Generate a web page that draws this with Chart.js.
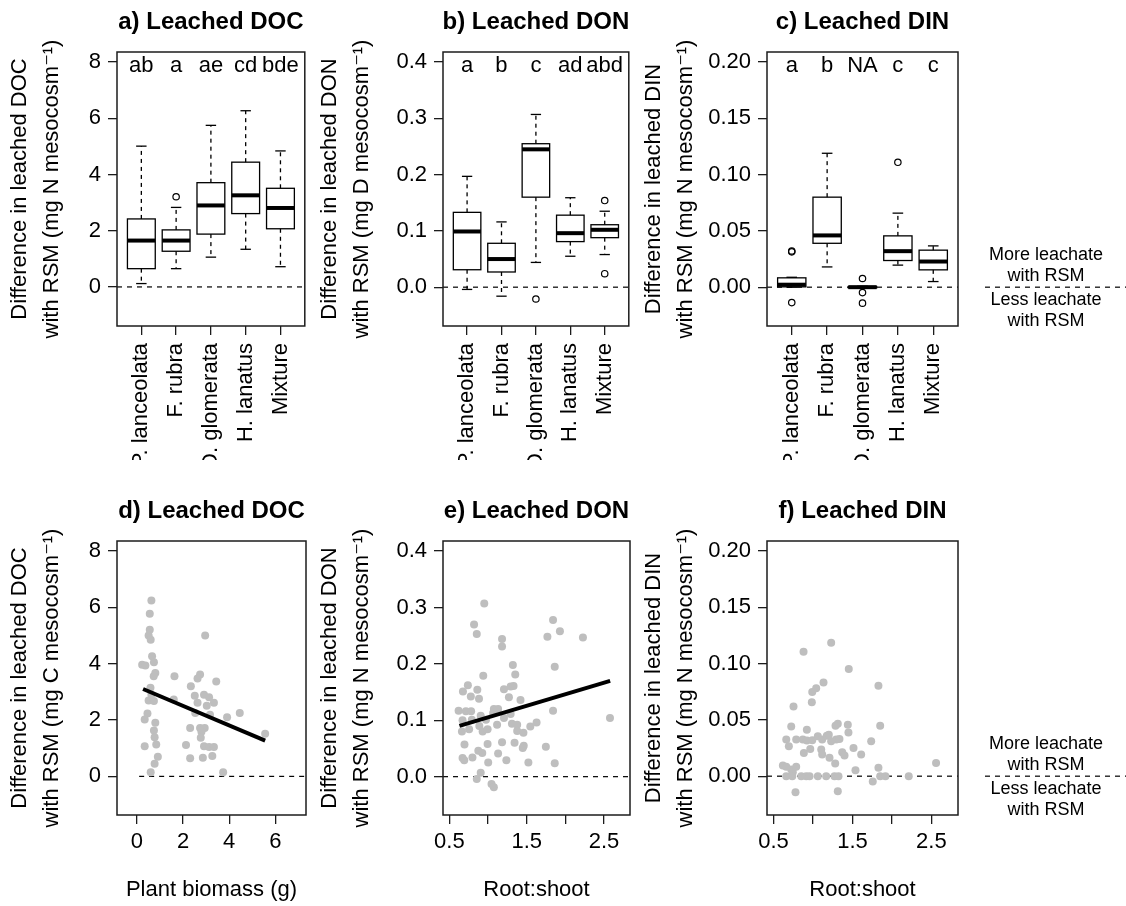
<!DOCTYPE html>
<html>
<head>
<meta charset="utf-8">
<script src="https://cdn.jsdelivr.net/npm/chart.js@4.4.1/dist/chart.umd.min.js"></script>
<style>
  html, body { margin: 0; padding: 0; background: #fff; }
  #wrap { position: relative; width: 1126px; height: 906px; overflow: hidden; }
  canvas { position: absolute; }
</style>
</head>
<body>
<div id="wrap">
  <canvas id="pa" width="310" height="460" style="left:0px;top:0px"></canvas>
  <canvas id="pb" width="324" height="460" style="left:310px;top:0px"></canvas>
  <canvas id="pc" width="492" height="460" style="left:634px;top:0px"></canvas>
  <canvas id="pd" width="310" height="446" style="left:0px;top:460px"></canvas>
  <canvas id="pe" width="324" height="446" style="left:310px;top:460px"></canvas>
  <canvas id="pf" width="492" height="446" style="left:634px;top:460px"></canvas>
</div>
<script>
// --- data ---------------------------------------------------------------
const species = ['P. lanceolata', 'F. rubra', 'D. glomerata', 'H. lanatus', 'Mixture'];
const speciesPos = [1, 2, 3, 4, 5];

// box stats per species: [lower whisker, q1, median, q3, upper whisker]
const docBoxes = [
    [0.12, 0.65, 1.65, 2.42, 5.01],
    [0.65, 1.27, 1.65, 2.03, 2.83],
    [1.06, 1.88, 2.90, 3.71, 5.75],
    [1.34, 2.61, 3.26, 4.44, 6.27],
    [0.72, 2.07, 2.81, 3.51, 4.84]
];
const docOutliers = [[], [3.21], [], [], []];
const docLetters = ['ab', 'a', 'ae', 'cd', 'bde'];

const donBoxes = [
    [-0.004, 0.031, 0.099, 0.133, 0.197],
    [-0.016, 0.027, 0.050, 0.078, 0.116],
    [0.044, 0.160, 0.245, 0.255, 0.307],
    [0.055, 0.081, 0.096, 0.128, 0.159],
    [0.058, 0.088, 0.102, 0.111, 0.135]
];
const donOutliers = [[], [], [-0.021], [], [0.154, 0.024]];
const donLetters = ['a', 'b', 'c', 'ad', 'abd'];

const dinBoxes = [
    [0.000, 0.0003, 0.0022, 0.0083, 0.0088],
    [0.018, 0.039, 0.046, 0.080, 0.119],
    [-0.0008, -0.0006, 0.000, 0.0006, 0.0008],
    [0.0196, 0.0237, 0.032, 0.0456, 0.0658],
    [0.005, 0.0154, 0.0228, 0.0329, 0.0367]
];
const dinOutliers = [[0.0322, 0.0314, -0.0137], [], [0.0077, -0.0048, -0.0142], [0.111], []];
const dinLetters = ['a', 'b', 'NA', 'c', 'c'];

// scatter: plant biomass (g) vs DOC difference
const biomass = [0.63, 0.56, 0.56, 0.51, 0.60, 2.96, 0.66, 0.74, 0.23, 0.37, 0.80, 0.73, 1.63, 2.74,
    2.63, 3.44, 2.34, 0.59, 0.63, 2.51, 2.91, 3.13, 1.60, 0.51, 0.74, 2.63, 3.34, 3.03, 0.46, 2.53,
    4.46, 3.17, 3.91, 0.34, 0.80, 2.31, 2.74, 2.94, 0.74, 2.80, 5.56, 0.77, 2.77, 0.84, 0.34, 2.13,
    2.91, 3.13, 3.34, 0.91, 3.27, 2.31, 2.86, 0.77, 0.60, 3.74];
const docDiff = [6.24, 5.77, 5.20, 5.00, 4.85, 5.00, 4.26, 4.05, 3.96, 3.93, 3.67, 3.55, 3.55, 3.61,
    3.47, 3.37, 3.20, 3.14, 2.90, 2.86, 2.90, 2.81, 2.73, 2.69, 2.67, 2.61, 2.61, 2.51, 2.23, 2.25,
    2.25, 2.19, 2.10, 2.02, 1.90, 1.72, 1.72, 1.72, 1.63, 1.58, 1.51, 1.39, 1.37, 1.13, 1.07, 1.11,
    1.07, 1.04, 1.04, 0.70, 0.72, 0.64, 0.66, 0.45, 0.15, 0.15];
const docFitX = [0.27, 5.56];
const docFitY = [3.10, 1.27];

// root:shoot vs DON difference
const rootShootE = [0.951, 0.819, 0.854, 1.181, 1.181, 1.321, 1.352, 0.938, 0.739, 0.675, 0.861, 1.206,
    1.292, 1.330, 0.777, 0.883, 1.270, 1.420, 0.619, 0.713, 0.781, 1.075, 1.130, 1.066, 0.670, 0.790,
    0.905, 0.973, 1.292, 1.206, 0.662, 0.755, 0.887, 0.930, 0.994, 1.117, 1.309, 1.377, 1.377, 1.458,
    1.547, 1.628, 0.695, 0.994, 1.181, 1.343, 1.462, 1.449, 0.874, 0.925, 1.130, 0.670, 0.692, 0.798,
    1.237, 1.002, 1.522, 0.905, 0.854, 1.045, 1.075, 1.841, 1.768, 1.930, 2.228, 1.863, 1.841, 2.578,
    1.748, 1.863];
const donDiff = [0.307, 0.270, 0.253, 0.244, 0.231, 0.198, 0.181, 0.179, 0.162, 0.151, 0.154, 0.155,
    0.160, 0.161, 0.142, 0.138, 0.141, 0.136, 0.117, 0.116, 0.116, 0.120, 0.120, 0.113, 0.100, 0.101,
    0.108, 0.101, 0.111, 0.104, 0.080, 0.084, 0.090, 0.080, 0.084, 0.092, 0.094, 0.092, 0.081, 0.078,
    0.089, 0.096, 0.057, 0.058, 0.061, 0.060, 0.055, 0.051, 0.046, 0.042, 0.041, 0.033, 0.029, 0.034,
    0.029, 0.025, 0.025, 0.007, -0.004, -0.013, -0.019, 0.278, 0.248, 0.258, 0.247, 0.195, 0.117, 0.104,
    0.053, 0.024];
const donFitX = [0.63, 2.58];
const donFitY = [0.090, 0.170];

// root:shoot vs DIN difference
const rootShootF = [1.230, 0.880, 1.453, 1.133, 1.040, 0.990, 0.985, 0.753, 0.724, 0.922, 1.314, 1.285,
    1.441, 1.449, 0.661, 0.787, 0.871, 0.922, 0.990, 1.061, 1.116, 1.175, 1.200, 1.230, 1.294, 1.335,
    0.694, 0.965, 0.884, 1.104, 1.116, 1.370, 1.399, 1.513, 1.610, 1.209, 1.281, 1.538, 0.618, 0.661,
    0.724, 0.787, 0.744, 0.661, 0.737, 0.851, 0.914, 0.956, 1.061, 1.167, 1.272, 1.323, 0.778, 1.314,
    1.829, 1.851, 1.737, 1.829, 1.851, 1.918, 2.213, 1.757, 2.559];
const dinDiff = [0.1186, 0.1106, 0.0953, 0.0832, 0.0782, 0.0747, 0.0658, 0.0619, 0.0442, 0.0413, 0.0466,
    0.0449, 0.0457, 0.0389, 0.0325, 0.0325, 0.0325, 0.0316, 0.0319, 0.0354, 0.0325, 0.0360, 0.0369,
    0.0310, 0.0325, 0.0331, 0.0265, 0.0242, 0.0207, 0.0236, 0.0192, 0.0212, 0.0183, 0.0251, 0.0192,
    0.0163, 0.0112, 0.0053, 0.0095, 0.0083, 0.0059, 0.0083, 0.0035, 0, 0, 0, 0, 0, 0, 0, 0, 0,
    -0.0142, -0.0133, 0.0803, 0.0449, 0.0310, 0.0074, 0, 0, 0, -0.0047, 0.0118];

// axis ticks
const docTicks = [0, 2, 4, 6, 8];
const donTicks = [0, 0.1, 0.2, 0.3, 0.4];
const dinTicks = [0, 0.05, 0.10, 0.15, 0.20];
const biomassTicks = [0, 2, 4, 6];
const rootShootTicks = [0.5, 1.0, 1.5, 2.0, 2.5];
const rootShootLabelled = [0.5, 1.5, 2.5];

const noteLines = ['More leachate', 'with RSM', 'Less leachate', 'with RSM'];

// --- drawing -------------------------------------------------------------
Chart.defaults.font.family = "'Liberation Sans', 'DejaVu Sans', Arial, sans-serif";
Chart.defaults.color = '#000';
const INK = '#1c1c1c';
const FONT = "'Liberation Sans', 'DejaVu Sans', Arial, sans-serif";

function line(ctx, x1, y1, x2, y2) {
    ctx.beginPath();
    ctx.moveTo(x1, y1);
    ctx.lineTo(x2, y2);
    ctx.stroke();
}

const panelDecor = {
    id: 'panelDecor',
    beforeDatasetsDraw(chart, args, opts) {
        const { ctx, chartArea: a, scales: { x, y } } = chart;
        const y0 = y.getPixelForValue(0);
        const xs = opts.zeroFrom != null ? x.getPixelForValue(opts.zeroFrom) : a.left;
        ctx.save();
        ctx.strokeStyle = '#000';
        ctx.lineWidth = 1.2;
        ctx.setLineDash([5, 5]);
        line(ctx, xs, y0, a.right, y0);
        ctx.restore();
    },
    afterDatasetsDraw(chart, args, opts) {
        const { ctx, scales: { x, y } } = chart;
        ctx.save();
        // boxplots
        (opts.boxes || []).forEach((b, i) => {
            const cx = x.getPixelForValue(i + 1);
            const hw = x.getPixelForValue(i + 1.4) - cx;
            const cw = x.getPixelForValue(i + 1.15) - cx;
            const [lo, q1, med, q3, hi] = b.map(v => y.getPixelForValue(v));
            ctx.strokeStyle = '#000';
            ctx.lineWidth = 1.3;
            ctx.setLineDash([4, 4]);
            line(ctx, cx, q3, cx, hi);
            line(ctx, cx, q1, cx, lo);
            ctx.setLineDash([]);
            line(ctx, cx - cw, hi, cx + cw, hi);
            line(ctx, cx - cw, lo, cx + cw, lo);
            ctx.strokeRect(cx - hw, q3, 2 * hw, q1 - q3);
            ctx.lineWidth = 4;
            line(ctx, cx - hw, med, cx + hw, med);
        });
        // group letters
        if (opts.letters) {
            ctx.fillStyle = '#000';
            ctx.font = '22px ' + FONT;
            ctx.textAlign = 'center';
            ctx.textBaseline = 'middle';
            opts.letters.forEach((t, i) => {
                ctx.fillText(t, x.getPixelForValue(i + 1), y.getPixelForValue(opts.letterAt) + 4);
            });
        }
        ctx.restore();
    },
    afterDraw(chart, args, opts) {
        const { ctx, chartArea: a, scales: { y } } = chart;
        ctx.save();
        ctx.strokeStyle = INK;
        ctx.lineWidth = 1.5;
        ctx.strokeRect(a.left, a.top, a.right - a.left, a.bottom - a.top);
        // panel title
        ctx.fillStyle = '#000';
        ctx.font = 'bold 24px ' + FONT;
        ctx.textAlign = 'center';
        ctx.textBaseline = 'middle';
        ctx.fillText(opts.title, (a.left + a.right) / 2, a.top - 30);
        // side note next to the zero line
        if (opts.note) {
            const y0 = y.getPixelForValue(0);
            const cx = 412;
            ctx.strokeStyle = '#000';
            ctx.lineWidth = 1.2;
            ctx.setLineDash([5, 5]);
            line(ctx, 351, y0, chart.width, y0);
            ctx.setLineDash([]);
            ctx.font = '18px ' + FONT;
            [-32, -11, 13, 34].forEach((dy, i) => ctx.fillText(noteLines[i], cx, y0 + dy));
        }
        ctx.restore();
    }
};

function yAxis(min, max, ticks, dec, title, width) {
    return {
        type: 'linear', position: 'left', min, max,
        afterBuildTicks: s => { s.ticks = ticks.map(v => ({ value: v })); },
        afterFit: s => { s.width = width; s.paddingTop = 0; s.paddingBottom = 0; },
        grid: { drawOnChartArea: false, drawTicks: true, tickLength: 9, color: INK, lineWidth: 1.3 },
        border: { display: false },
        ticks: { padding: 7, color: '#000', font: { size: 22 }, callback: v => v.toFixed(dec) },
        title: {
            display: true, text: title, color: '#000',
            padding: { top: 4, bottom: 0 },
            font: { size: 22, lineHeight: 1.45 }
        }
    };
}

function xAxis(min, max, ticks, labelFn, height, rotated, title) {
    return {
        type: 'linear', position: 'bottom', min, max,
        afterBuildTicks: s => { s.ticks = ticks.map(v => ({ value: v })); },
        afterFit: s => { s.height = height; s.paddingLeft = 0; s.paddingRight = 0; },
        grid: { drawOnChartArea: false, drawTicks: true, tickLength: 9, color: INK, lineWidth: 1.3 },
        border: { display: false },
        ticks: {
            autoSkip: false, color: '#000',
            minRotation: rotated ? 90 : 0, maxRotation: rotated ? 90 : 0,
            padding: rotated ? 8 : 5, font: { size: 22 }, callback: labelFn
        },
        title: title
            ? { display: true, text: title, color: '#000', padding: { top: 0, bottom: 3 }, font: { size: 22 } }
            : { display: false }
    };
}

function baseOptions(padTop, padRight, decor, x, y) {
    return {
        responsive: false,
        animation: false,
        devicePixelRatio: 1,
        layout: { padding: { top: padTop, right: padRight, left: 0, bottom: 0 } },
        plugins: { legend: { display: false }, tooltip: { enabled: false }, panelDecor: decor },
        scales: { x, y }
    };
}

function boxPanel(id, boxes, outliers, letters, letterAt, yMin, yMax, yTicks, dec, yTitle, yWidth, padRight, title, note) {
    const pts = [];
    outliers.forEach((arr, i) => arr.forEach(v => pts.push({ x: speciesPos[i], y: v })));
    new Chart(document.getElementById(id), {
        type: 'scatter',
        data: {
            datasets: [{
                data: pts, pointRadius: 3.2, pointStyle: 'circle',
                backgroundColor: 'rgba(0,0,0,0)', borderColor: '#000', borderWidth: 1.2
            }]
        },
        options: baseOptions(52, padRight,
            { boxes, letters, letterAt, title, note },
            xAxis(0.3, 5.7, speciesPos, v => species[Math.round(v) - 1], 134, true, null),
            yAxis(yMin, yMax, yTicks, dec, yTitle, yWidth)),
        plugins: [panelDecor]
    });
}

function scatterPanel(id, xs, ys, fitX, fitY, xMin, xMax, xTicks, xLabel, xTitle,
                      yMin, yMax, yTicks, dec, yTitle, yWidth, padRight, title, note, zeroFrom) {
    const datasets = [];
    if (fitX) {
        datasets.push({
            data: fitX.map((v, i) => ({ x: v, y: fitY[i] })), showLine: true,
            borderColor: '#000', borderWidth: 4, pointRadius: 0, order: 0
        });
    }
    datasets.push({
        data: xs.map((v, i) => ({ x: v, y: ys[i] })), pointRadius: 4,
        backgroundColor: '#bebebe', borderWidth: 0, order: 1
    });
    new Chart(document.getElementById(id), {
        type: 'scatter',
        data: { datasets },
        options: baseOptions(81, padRight,
            { title, note, zeroFrom },
            xAxis(xMin, xMax, xTicks, xLabel, 91, false, xTitle),
            yAxis(yMin, yMax, yTicks, dec, yTitle, yWidth)),
        plugins: [panelDecor]
    });
}

const titleDOCa = ['Difference in leached DOC', 'with RSM (mg N mesocosm⁻¹)'];
const titleDONb = ['Difference in leached DON', 'with RSM (mg D mesocosm⁻¹)'];
const titleDIN = ['Difference in leached DIN', 'with RSM (mg N mesocosm⁻¹)'];
const titleDOCd = ['Difference in leached DOC', 'with RSM (mg C mesocosm⁻¹)'];
const titleDONe = ['Difference in leached DON', 'with RSM (mg N mesocosm⁻¹)'];

boxPanel('pa', docBoxes, docOutliers, docLetters, 8, -1.39, 8.36, docTicks, 0, titleDOCa, 117, 2, 'a) Leached DOC', false);
boxPanel('pb', donBoxes, donOutliers, donLetters, 0.4, -0.069, 0.418, donTicks, 1, titleDONb, 133, 1, 'b) Leached DON', false);
boxPanel('pc', dinBoxes, dinOutliers, dinLetters, 0.2, -0.0345, 0.209, dinTicks, 2, titleDIN, 133, 168, 'c) Leached DIN', true);

const rsLabel = v => rootShootLabelled.some(t => Math.abs(t - v) < 1e-6) ? v.toFixed(1) : '';

scatterPanel('pd', biomass, docDiff, docFitX, docFitY, -0.86, 7.33, biomassTicks, v => String(v), 'Plant biomass (g)',
    -1.37, 8.35, docTicks, 0, titleDOCd, 117, 2, 'd) Leached DOC', false, 0.1);
scatterPanel('pe', rootShootE, donDiff, donFitX, donFitY, 0.417, 2.837, rootShootTicks, rsLabel, 'Root:shoot',
    -0.068, 0.418, donTicks, 1, titleDONe, 133, 1, 'e) Leached DON', false, null);
scatterPanel('pf', rootShootF, dinDiff, null, null, 0.417, 2.837, rootShootTicks, rsLabel, 'Root:shoot',
    -0.0345, 0.209, dinTicks, 2, titleDIN, 133, 168, 'f) Leached DIN', true, null);
</script>
</body>
</html>
